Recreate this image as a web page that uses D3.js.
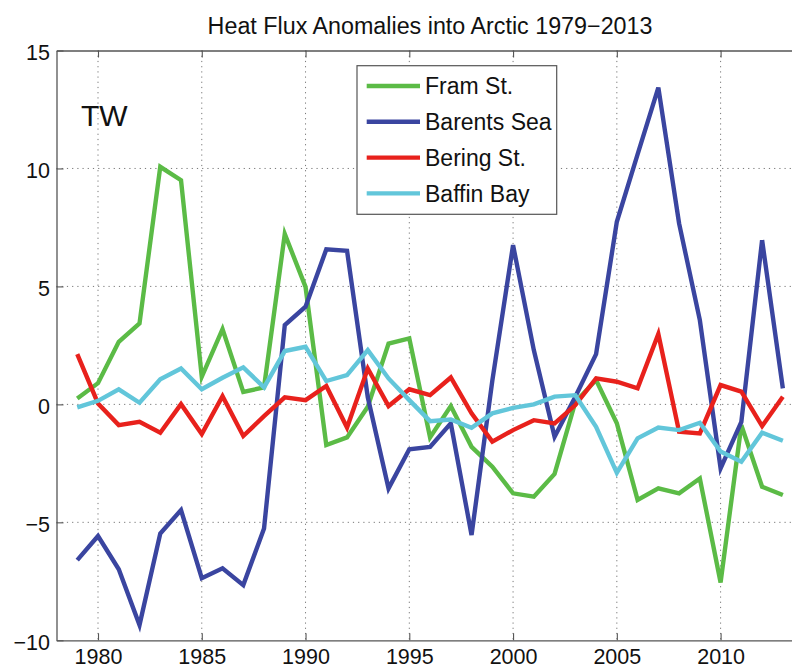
<!DOCTYPE html>
<html>
<head>
<meta charset="utf-8">
<script src="https://cdn.jsdelivr.net/npm/d3@7"></script>
<style>
  body { margin: 0; background: #fff; }
  svg { display: block; font-family: "Liberation Sans", Arial, Helvetica, sans-serif; }
</style>
</head>
<body>
<div id="viz"></div>
<script>
var years = d3.range(1979, 2014);

var fram = [0.25, 0.9, 2.65, 3.43, 10.07, 9.5, 1.17, 3.19, 0.53, 0.72,
    7.22, 4.98, -1.72, -1.4, -0.1, 2.58, 2.8, -1.4, -0.07, -1.8,
    -2.64, -3.77, -3.91, -2.95, 0.1, 1.03, -0.8, -4.05, -3.56, -3.77,
    -3.14, -7.55, -0.88, -3.49, -3.84];

var barents = [-6.6, -5.58, -6.99, -9.35, -5.47, -4.48, -7.37, -6.95, -7.66, -5.26,
    3.36, 4.14, 6.57, 6.51, 0.3, -3.56, -1.9, -1.8, -0.8, -5.54,
    1.0, 6.75, 2.3, -1.37, 0.32, 2.13, 7.74, 10.6, 13.43, 7.67,
    3.57, -2.71, -0.74, 6.96, 0.68];

var bering = [2.13, 0.04, -0.88, -0.74, -1.2, 0.01, -1.26, 0.35, -1.34, -0.5,
    0.3, 0.18, 0.78, -0.98, 1.52, -0.07, 0.64, 0.39, 1.14, -0.38,
    -1.58, -1.09, -0.67, -0.81, -0.03, 1.1, 0.96, 0.68, 2.98, -1.16,
    -1.23, 0.82, 0.54, -0.92, 0.32];

var baffin = [-0.13, 0.15, 0.64, 0.07, 1.06, 1.52, 0.64, 1.13, 1.57, 0.72,
    2.26, 2.44, 0.99, 1.24, 2.3, 1.1, 0.18, -0.71, -0.64, -0.99,
    -0.38, -0.15, 0.0, 0.33, 0.39, -0.95, -2.9, -1.44, -0.98, -1.09,
    -0.78, -2.0, -2.43, -1.2, -1.54];

var seriesNames = ['Fram St.', 'Barents Sea', 'Bering St.', 'Baffin Bay'];
var seriesColors = ['#5bbb46', '#3a45a0', '#e8211c', '#62c6da'];
var xTicks = [1980, 1985, 1990, 1995, 2000, 2005, 2010];
var yTicks = [-10, -5, 0, 5, 10, 15];

var width = 792,
    height = 668,
    plotLeft = 56.5,
    plotTop = 50.5,
    plotBottom = 640.3;

var series = [fram, barents, bering, baffin].map(function(vals, i) {
    return {
        name: seriesNames[i],
        color: seriesColors[i],
        values: vals.map(function(v, j) { return { year: years[j], value: v }; })
    };
});

var xScale = d3.scaleLinear()
    .domain([1978, 2014])
    .range([plotLeft, plotLeft + 36 * 20.753]);

var yScale = d3.scaleLinear()
    .domain([-10, 15])
    .range([plotBottom, plotTop]);

var plotRight = xScale(2014);

var svg = d3.select('#viz').append('svg')
    .attr('width', width)
    .attr('height', height);

svg.append('defs').append('clipPath')
    .attr('id', 'plot')
  .append('rect')
    .attr('x', plotLeft)
    .attr('y', plotTop)
    .attr('width', plotRight - plotLeft)
    .attr('height', plotBottom - plotTop);

// grid
var grid = svg.append('g')
    .attr('stroke', '#777')
    .attr('stroke-width', 1)
    .attr('stroke-dasharray', '1.2,4');

grid.selectAll('.gx').data(xTicks)
    .enter().append('line')
    .attr('x1', function(d) { return xScale(d); })
    .attr('x2', function(d) { return xScale(d); })
    .attr('y1', plotTop)
    .attr('y2', plotBottom);

grid.selectAll('.gy').data(yTicks.slice(1, -1))
    .enter().append('line')
    .attr('x1', plotLeft)
    .attr('x2', plotRight)
    .attr('y1', function(d) { return yScale(d); })
    .attr('y2', function(d) { return yScale(d); });

// axes, ticks inward like matlab
var axisColor = '#555';

var xBottom = svg.append('g')
    .attr('transform', 'translate(0,' + plotBottom + ')')
    .call(d3.axisBottom(xScale).tickValues(xTicks).tickSize(-7).tickSizeOuter(0).tickFormat(d3.format('d')));

var xTop = svg.append('g')
    .attr('transform', 'translate(0,' + plotTop + ')')
    .call(d3.axisTop(xScale).tickValues(xTicks).tickSize(-7).tickSizeOuter(0).tickFormat(''));

var yLeft = svg.append('g')
    .attr('transform', 'translate(' + plotLeft + ',0)')
    .call(d3.axisLeft(yScale).tickValues(yTicks).tickSize(-7).tickSizeOuter(0).tickPadding(6.5)
        .tickFormat(function(d) { return d < 0 ? '\u2212' + Math.abs(d) : d; }));

[xBottom, xTop, yLeft].forEach(function(g) {
    g.select('.domain').attr('stroke', axisColor).attr('stroke-width', 1.3);
    g.selectAll('.tick line').attr('stroke', axisColor).attr('stroke-width', 1.1);
    g.selectAll('.tick text')
        .attr('fill', '#111')
        .style('font-size', '21.5px')
        .style('font-family', '"Liberation Sans", Arial, sans-serif');
});

xBottom.selectAll('.tick text').attr('y', 23.5).attr('dy', 0);
yLeft.selectAll('.tick text').attr('dy', '0.42em');

// lines
var line = d3.line()
    .x(function(d) { return xScale(d.year); })
    .y(function(d) { return yScale(d.value); });

svg.append('g')
    .attr('clip-path', 'url(#plot)')
  .selectAll('path').data(series)
    .enter().append('path')
    .attr('d', function(d) { return line(d.values); })
    .attr('fill', 'none')
    .attr('stroke', function(d) { return d.color; })
    .attr('stroke-width', 4.4)
    .attr('stroke-linejoin', 'miter')
    .attr('stroke-miterlimit', 4);

// title + units
svg.append('text')
    .attr('x', (plotLeft + plotRight) / 2)
    .attr('y', 33.5)
    .attr('text-anchor', 'middle')
    .attr('fill', '#111')
    .style('font-size', '23.3px')
    .text('Heat Flux Anomalies into Arctic 1979\u22122013');

svg.append('text')
    .attr('x', 81)
    .attr('y', 125.5)
    .attr('fill', '#111')
    .style('font-size', '30px')
    .text('TW');

// legend
var legend = svg.append('g');

legend.append('rect')
    .attr('x', 357)
    .attr('y', 65.7)
    .attr('width', 199.7)
    .attr('height', 148.6)
    .attr('fill', '#fff')
    .attr('stroke', axisColor)
    .attr('stroke-width', 1.2);

var rows = legend.selectAll('.row').data(series)
    .enter().append('g')
    .attr('transform', function(d, i) { return 'translate(0,' + (86 + i * 35.8) + ')'; });

rows.append('line')
    .attr('x1', 366.7)
    .attr('x2', 420)
    .attr('stroke', function(d) { return d.color; })
    .attr('stroke-width', 4.4);

rows.append('text')
    .attr('x', 425)
    .attr('y', 8.3)
    .attr('fill', '#111')
    .style('font-size', '23px')
    .text(function(d) { return d.name; });
</script>
</body>
</html>
